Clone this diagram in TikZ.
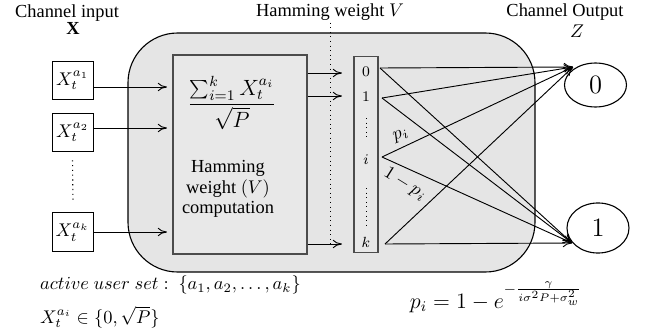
\documentclass[tikz,border=0pt]{standalone}
\usepackage{fontspec}
\setmainfont{Liberation Serif}
\usetikzlibrary{arrows.meta,shapes.geometric,calc}
\begin{document}
\begin{tikzpicture}[x=0.5435pt,y=-0.5435pt,
  arr/.style={-{To[length=5pt,width=4.5pt]}, line width=0.5pt},
  inbox/.style={draw, line width=0.5pt, fill=white, minimum width=22.3pt, minimum height=21pt, inner sep=0pt},
  graybox/.style={draw=black!70, line width=0.6pt, fill=black!9, inner sep=0pt},
  outnode/.style={ellipse, draw, line width=0.6pt, fill=white, minimum width=33.7pt, inner sep=0pt, font=\Large},
  lbl/.style={inner sep=1pt},
  vlbl/.style={inner sep=0pt, font=\footnotesize}]
\useasboundingbox (0,0) rectangle (649,332);
% big rounded block
\node (big) [draw, line width=0.6pt, fill=black!10, rounded corners=27pt,
  minimum width=221.2pt, minimum height=129.9pt, inner sep=0pt] at (331.5,152.5) {};
% hamming computation box
\node (h) [graybox, minimum width=72.8pt, minimum height=108.2pt] at (240,154.5) {};
\node (frac) [lbl, font=\large] at (232,103) {$\displaystyle\frac{\sum_{i=1}^{k} X_t^{a_i}}{\sqrt{P}}$};
\node (htxt) [lbl, align=center, font=\normalsize] at (228,189) {Hamming\\[-1pt] weight $(V)$\\[-1pt] computation};
% vector box
\node (vec) [graybox, minimum width=13pt, minimum height=107pt] at (366,154.5) {};
\node (v0) [vlbl] at (366,72) {$0$};
\node (v1) [vlbl] at (366,97) {$1$};
\node (vi) [vlbl] at (366,160) {$i$};
\node (vk) [vlbl] at (366,242) {$k$};
\coordinate (d1a) at (366,118); \coordinate (d1b) at (366,140);
\coordinate (d2a) at (366,188); \coordinate (d2b) at (366,225);
\draw[dotted, line width=0.5pt] (d1a) -- (d1b);
\draw[dotted, line width=0.5pt] (d2a) -- (d2b);
% input boxes
\node (a1) [inbox] at (72.5,80.5) {$X_t^{a_1}$};
\node (a2) [inbox] at (72.5,132.5) {$X_t^{a_2}$};
\node (ak) [inbox] at (72.5,232) {$X_t^{a_k}$};
\draw[dotted, line width=0.6pt] (a2.south) ++(0,8) coordinate (da) -- (73,203) coordinate (db);
% input arrows
\coordinate (h1) at (167,87);
\coordinate (h2) at (167,128);
\coordinate (hk) at (167,232);
\draw[arr] (a1.east |- h1) -- (h1);
\draw[arr] (a2.east |- h2) -- (h2);
\draw[arr] (ak.east |- hk) -- (hk);
% dotted Hamming weight line
\node (hwl) [lbl] at (330,12) {Hamming weight $V$};
\coordinate (dl) at (330,246);
\draw[dotted, line width=0.5pt] (hwl.south) -- (dl);
% arrows from computation box to vector
\coordinate (c0) at (342,73);
\coordinate (c1) at (342,96);
\coordinate (ck) at (342,244);
\draw[arr] (h.east |- c0) -- (c0);
\draw[arr] (h.east |- c1) -- (c1);
\draw[arr] (h.east |- ck) -- (ck);
% outputs
\node (z0) [outnode, minimum height=23.9pt] at (595.5,85) {$0$};
\node (z1) [outnode, minimum height=27.2pt] at (598,228) {$1$};
\node (cout) [lbl] at (565,12) {Channel Output};
\node (zl) [lbl] at (577,31) {$Z$};
\node (cin) [lbl] at (67,13) {Channel input};
\node (xl) [lbl] at (73,28) {$\mathbf{X}$};
% transitions
\coordinate (s0) at (380,68);
\coordinate (s1) at (382,98);
\coordinate (si) at (382,157);
\coordinate (sk) at (385,244);
\coordinate (t0) at (573,67);
\coordinate (t1) at (572,243);
\foreach \s in {s0,s1,si,sk}{
  \draw[arr] (\s) -- (t0);
  \draw[arr] (\s) -- (t1);
}
\node (pl) [lbl, rotate=22] at (401,136) {$p_i$};
\node (ql) [lbl, rotate=-32] at (405,184) {$1-p_i$};
% bottom texts
\node (aus) [lbl, anchor=west] at (38,285) {$active\ user\ set:\ \{a_1, a_2, \ldots, a_k\}$};
\node (xin) [lbl, anchor=west] at (38,317) {$X_t^{a_i}\in\{0,\sqrt{P}\}$};
\node (pf) [lbl, font=\large] at (496,297) {$p_i = 1 - e^{-\frac{\gamma}{i\sigma^2P+\sigma_w^2}}$};
\end{tikzpicture}
\end{document}
